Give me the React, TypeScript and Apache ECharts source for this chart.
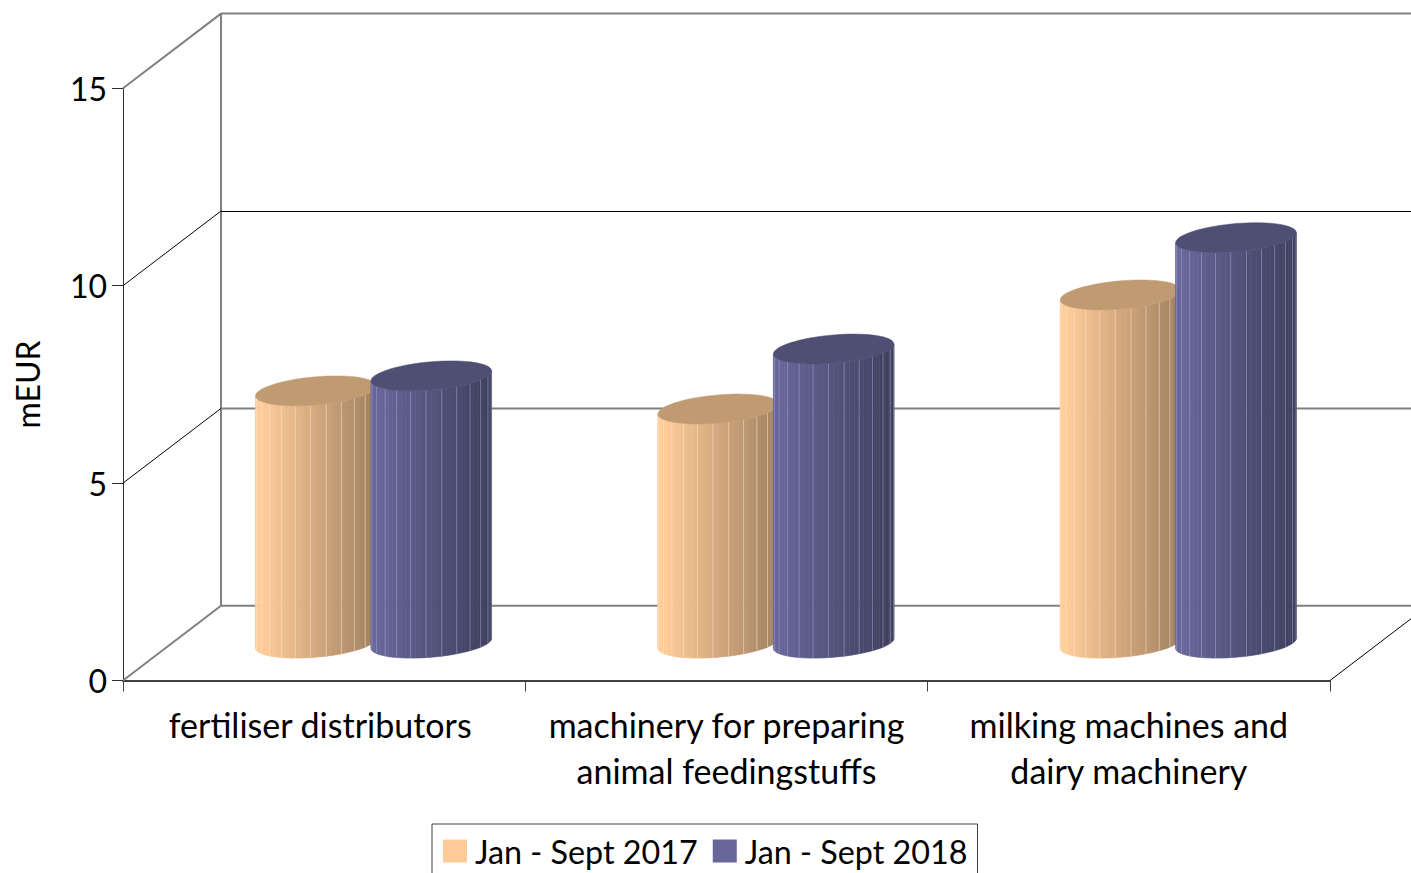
import React, { useEffect, useRef } from "react";
import * as echarts from "echarts";

const categories = [
  "fertiliser distributors",
  "machinery for preparing\nanimal feedingstuffs",
  "milking machines and\ndairy machinery",
];
const seriesNames = ["Jan - Sept 2017", "Jan - Sept 2018"];
const values2017 = [6.39, 5.93, 8.82];
const values2018 = [6.77, 7.45, 10.27];
const yTicks = [0, 5, 10, 15];

const FONT = "Lato";
const DEPTH_X = 98;
const DEPTH_Y = -74.7;
const LIGHT = [
  [255, 204, 153],
  [102, 102, 153],
];
const DARK = [
  [160, 128, 96],
  [62, 62, 92],
];
const TOP = ["#c09b72", "#4f4f73"];
const LINE = ["#ffe9d2", "#a9a9d8"];

const mix = (a: number[], b: number[], f: number) =>
  `rgb(${a.map((v, i) => Math.round(v + (b[i] - v) * f)).join(",")})`;

function frameItem(params: any, api: any) {
  const v = api.value(1);
  const p = api.coord([0, v]);
  const left = params.coordSys.x;
  const right = left + params.coordSys.width;
  const y = p[1];
  const heavyDiag = v === 0 || v === 15;
  const heavyHoriz = v !== 10;
  const grey = { stroke: "#808080", lineWidth: 2 };
  const thin = { stroke: "#000000", lineWidth: 1 };
  const backY = heavyHoriz ? y + DEPTH_Y : Math.round(y + DEPTH_Y) + 0.5;
  const children: any[] = [
    {
      type: "line",
      shape: { x1: left, y1: y, x2: left + DEPTH_X, y2: y + DEPTH_Y },
      style: heavyDiag ? grey : thin,
    },
    {
      type: "line",
      shape: { x1: left + DEPTH_X, y1: backY, x2: right + DEPTH_X, y2: backY },
      style: heavyHoriz ? grey : thin,
    },
  ];
  if (v === 0) {
    const top = api.coord([0, 15])[1];
    children.push(
      {
        type: "line",
        shape: { x1: left + DEPTH_X, y1: y + DEPTH_Y, x2: left + DEPTH_X, y2: top + DEPTH_Y },
        style: grey,
      },
      {
        type: "line",
        shape: { x1: right, y1: y, x2: right + DEPTH_X, y2: y + DEPTH_Y },
        style: thin,
      },
    );
  }
  return { type: "group", silent: true, children };
}

function cylinderItem(si: number) {
  return (_params: any, api: any) => {
    const cat = api.value(0);
    const topP = api.coord([cat, api.value(1)]);
    const baseP = api.coord([cat, 0]);
    const band = api.size([1, 0])[0];
    const a = band * 0.1498;
    const b = 14.1;
    const tilt = 5;
    const cx = topP[0] + (si === 0 ? -1 : 1) * band * 0.1435 + DEPTH_X / 2 + 0.4;
    const topY = topP[1] + DEPTH_Y / 2;
    const baseY = baseP[1] + DEPTH_Y / 2;
    const pt = (t: number, cy: number) => [
      cx + a * Math.cos(t),
      cy - b * Math.sin(t) - tilt * Math.cos(t),
    ];
    const N = 36;
    const children: any[] = [];
    for (let i = 0; i < N; i++) {
      const t0 = Math.PI + (Math.PI * i) / N;
      const t1 = Math.PI + (Math.PI * (i + 1)) / N;
      const frac = (Math.cos((t0 + t1) / 2) + 1) / 2;
      const f = Math.max(0, (frac - 0.06) / 0.94);
      const fill = mix(LIGHT[si], DARK[si], f);
      children.push({
        type: "polygon",
        shape: { points: [pt(t0, topY), pt(t1, topY), pt(t1, baseY), pt(t0, baseY)] },
        style: { fill, stroke: fill, lineWidth: 0.6 },
      });
    }
    for (let i = 2; i < N; i += 3) {
      const t = Math.PI + (Math.PI * i) / N;
      const p0 = pt(t, topY);
      const p1 = pt(t, baseY);
      children.push({
        type: "line",
        shape: { x1: p0[0], y1: p0[1], x2: p1[0], y2: p1[1] },
        style: { stroke: LINE[si], lineWidth: 1, opacity: 0.5 },
      });
    }
    const ring: number[][] = [];
    for (let i = 0; i < 72; i++) ring.push(pt((i * Math.PI * 2) / 72, topY));
    children.push({
      type: "polygon",
      shape: { points: ring },
      style: { fill: TOP[si], stroke: TOP[si], lineWidth: 0.5 },
    });
    return { type: "group", silent: true, children };
  };
}

export default function App() {
  const ref = useRef<HTMLDivElement>(null);
  useEffect(() => {
    const chart = echarts.init(ref.current!, undefined, { renderer: "svg" });
    chart.setOption({
      animation: false,
      backgroundColor: "#ffffff",
      textStyle: { fontFamily: FONT },
      grid: { left: 123, right: 81, top: 88.3, bottom: 192.5, containLabel: false, outerBoundsMode: "none" },
      legend: {
        data: seriesNames,
        left: 432,
        top: 824,
        orient: "horizontal",
        icon: "rect",
        itemWidth: 24,
        itemHeight: 23,
        itemGap: 15,
        padding: [11, 10, 18, 11],
        borderColor: "#404040",
        borderWidth: 1,
        backgroundColor: "#ffffff",
        selectedMode: false,
        textStyle: { fontFamily: FONT, fontSize: 32.3, color: "#000000", padding: [0, 0, 0, 3] },
      },
      xAxis: {
        type: "category",
        data: categories,
        axisLine: { show: true, lineStyle: { color: "#404040", width: 2 } },
        axisTick: { show: true, length: 11, alignWithLabel: false, lineStyle: { color: "#404040", width: 1 } },
        axisLabel: {
          color: "#000000",
          fontFamily: FONT,
          fontSize: 34,
          lineHeight: 46,
          margin: 21,
          interval: 0,
          formatter: (v: string) => (v === categories[0] ? `{a|${v}}` : v),
          rich: {
            a: { fontFamily: FONT, fontSize: 34, lineHeight: 46, color: "#000000", padding: [0, 8, 0, 0] },
          },
        },
        splitLine: { show: false },
      },
      yAxis: {
        type: "value",
        min: 0,
        max: 15,
        interval: 5,
        name: "mEUR",
        nameLocation: "middle",
        nameGap: 80,
        nameRotate: 90,
        nameTextStyle: { color: "#000000", fontFamily: FONT, fontSize: 32 },
        axisLine: { show: true, lineStyle: { color: "#303030", width: 1 } },
        axisTick: { show: true, length: 11, lineStyle: { color: "#303030", width: 1 } },
        axisLabel: { color: "#000000", fontFamily: FONT, fontSize: 32, margin: 16 },
        splitLine: { show: false },
      },
      series: [
        {
          name: "frame",
          type: "custom",
          z: 1,
          clip: false,
          renderItem: frameItem,
          encode: { x: 0, y: 1 },
          data: yTicks.map((t) => [0, t]),
        },
        {
          name: seriesNames[0],
          type: "custom",
          z: 3,
          clip: false,
          renderItem: cylinderItem(0),
          itemStyle: { color: "#ffcc99" },
          encode: { x: 0, y: 1 },
          data: values2017.map((v, i) => [i, v]),
        },
        {
          name: seriesNames[1],
          type: "custom",
          z: 4,
          clip: false,
          renderItem: cylinderItem(1),
          itemStyle: { color: "#666699" },
          encode: { x: 0, y: 1 },
          data: values2018.map((v, i) => [i, v]),
        },
      ],
    });
    return () => chart.dispose();
  }, []);
  return (
    <div
      ref={ref}
      style={{ position: "fixed", left: 0, top: 0, width: 1411, height: 873, overflow: "hidden" }}
    />
  );
}
